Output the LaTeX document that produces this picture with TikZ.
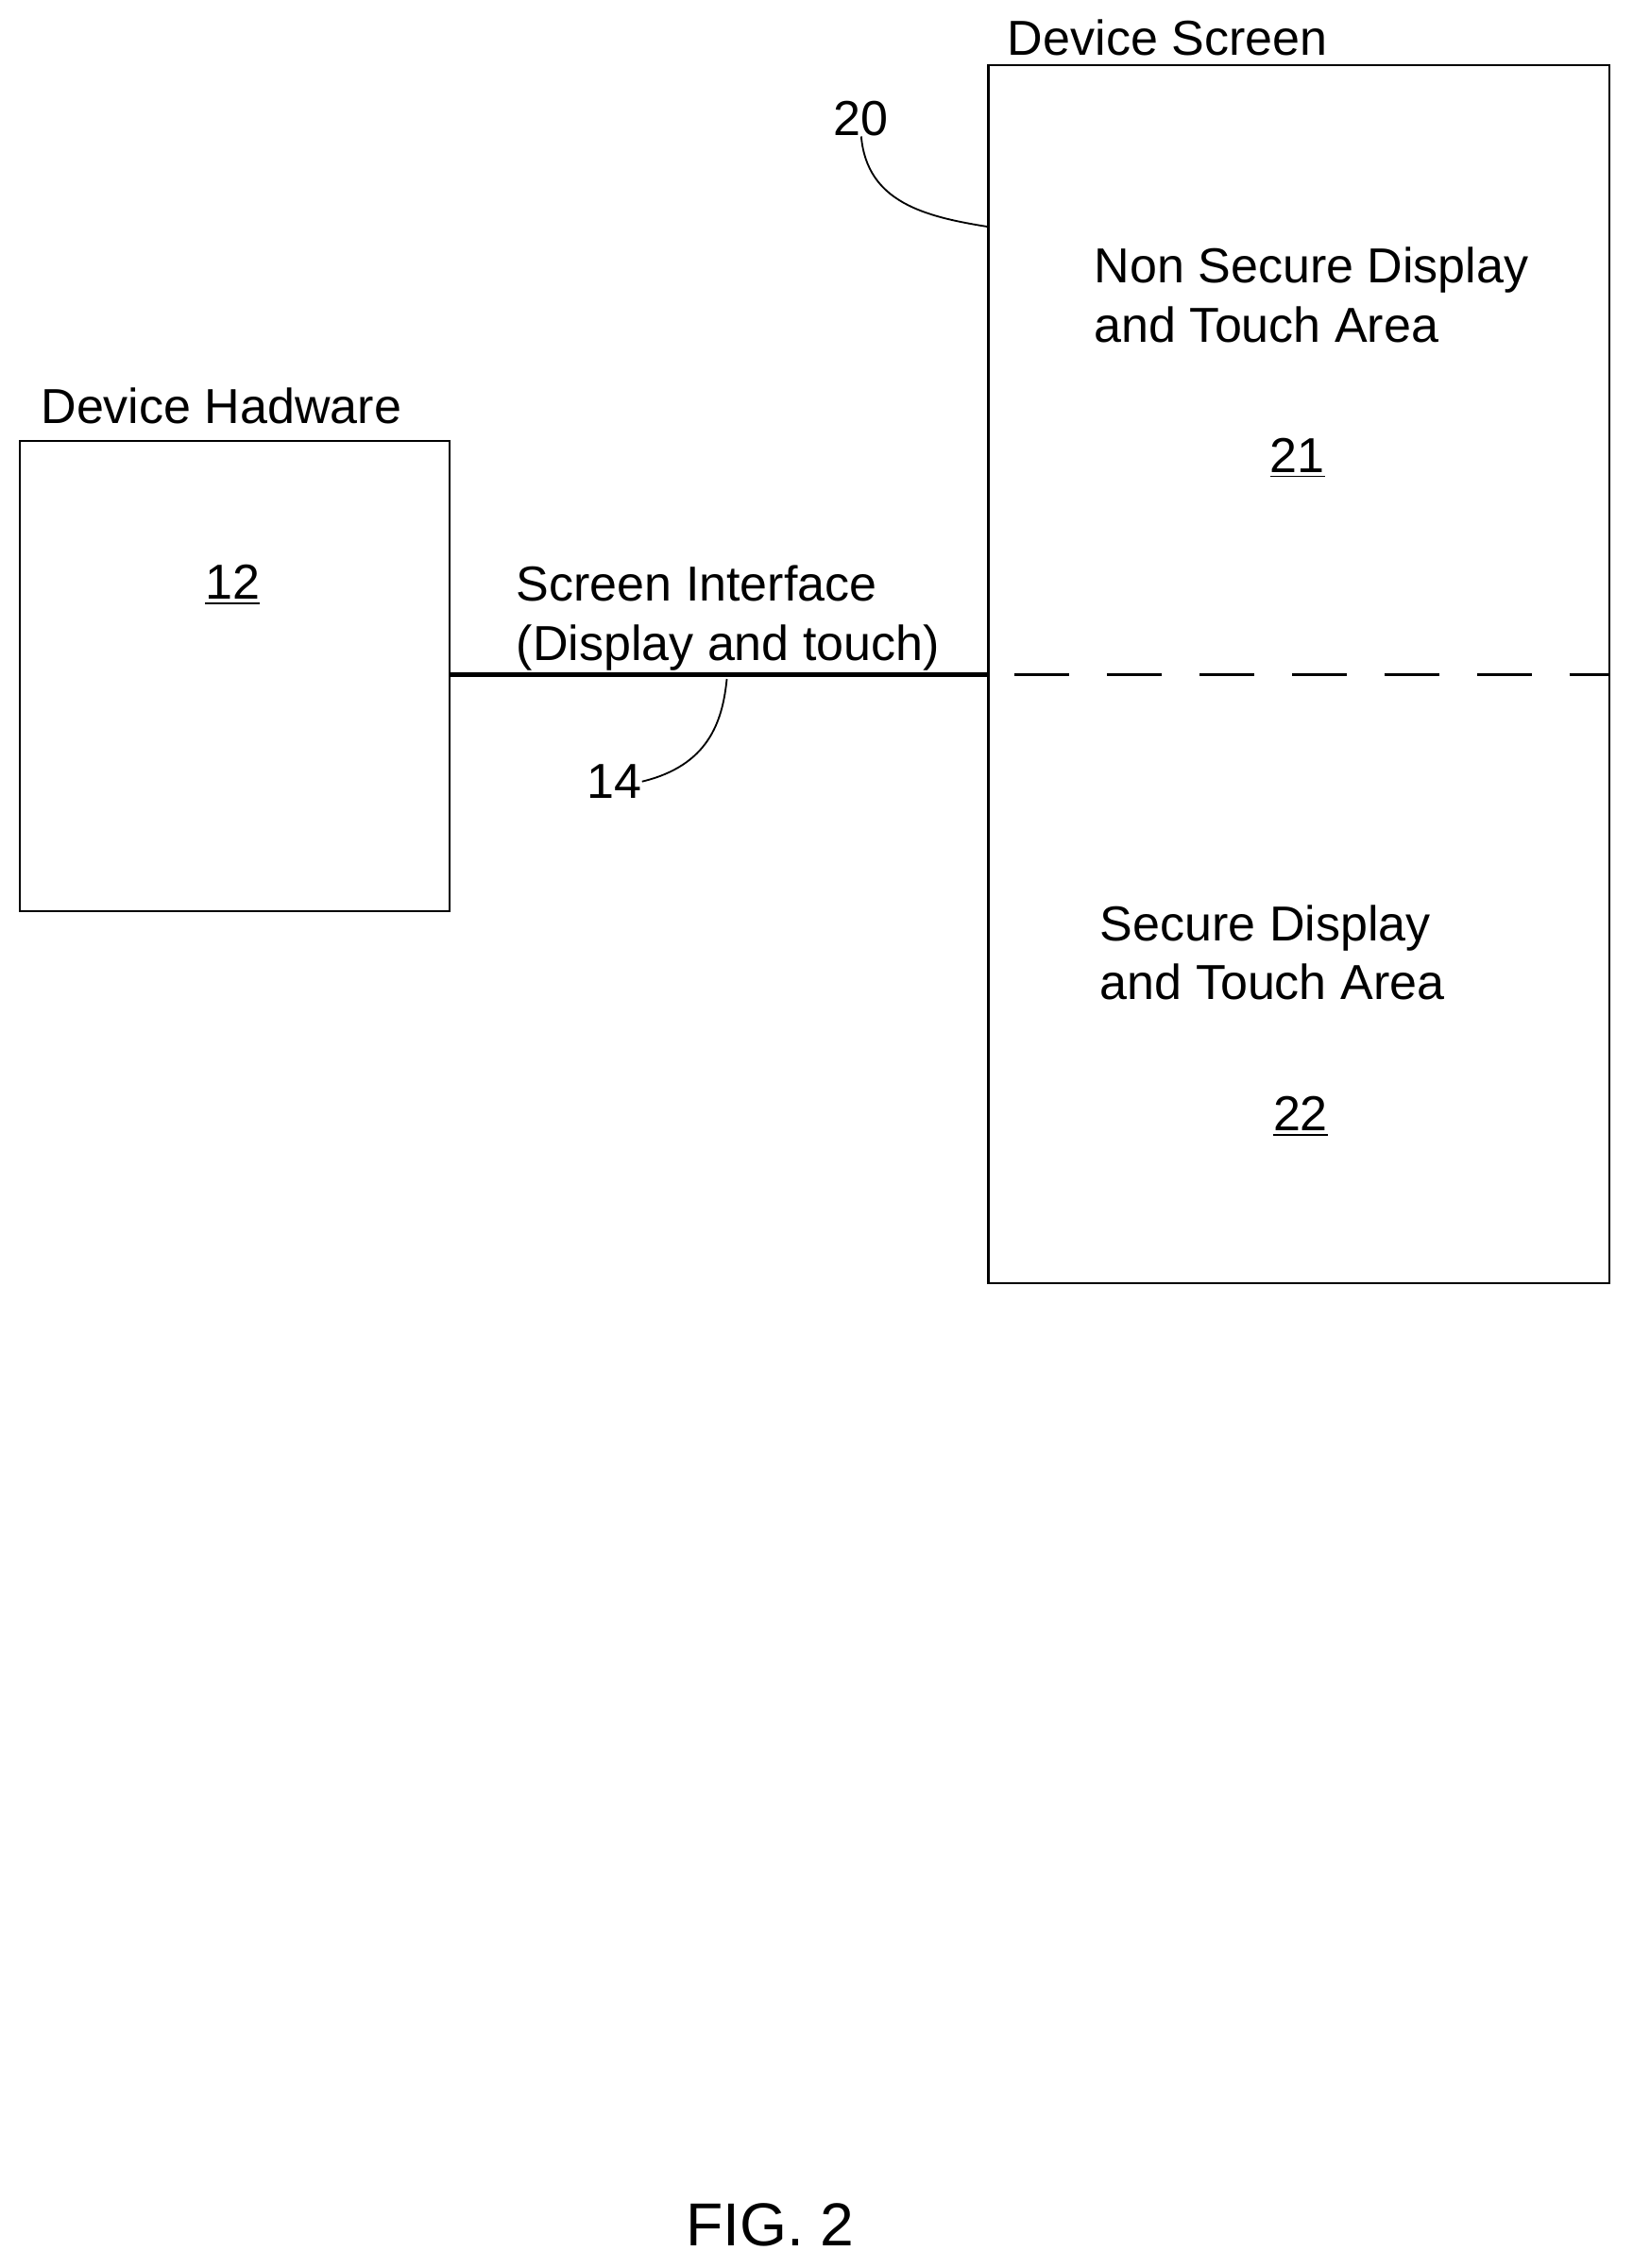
\documentclass[tikz,border=0pt]{standalone}
\usepackage{fontspec}
\setmainfont{Liberation Sans}
\begin{document}
\begin{tikzpicture}[x=0.5pt,y=-0.5pt,
  lbl/.style={font=\fontsize{17}{20.5}\selectfont, inner sep=0pt, align=left},
  num/.style={font=\fontsize{17}{20.5}\selectfont, inner sep=0pt},
  box/.style={draw, line width=0.7pt}]
\useasboundingbox (0,0) rectangle (1130,1570);
\draw[box] (14,305) rectangle (311,631);
\coordinate (hwr) at (311,467);
\draw[box] (684,45) rectangle (1114,888);
\coordinate (scl) at (684,467);
\coordinate (scr) at (1114,467);
\draw[line width=1.5pt] (hwr) -- (scl);
\draw[line width=0.7pt, dash pattern=on 19pt off 13pt, dash phase=-9pt] (scl) -- (scr);
\node[lbl, anchor=base west] (hwl) at (28,293) {Device Hadware};
\node[num] (n12) at (161,405) {\underline{12}};
\node[lbl, anchor=base west] (dsl) at (697,38) {Device Screen};
\node[num] (n20) at (596,82) {20};
\draw[line width=0.6pt] (n20.south) .. controls (600,140) and (640,150) .. (684,157);
\node[lbl, anchor=base west] (nsl) at (757,237) {Non Secure Display\\and Touch Area};
\node[num] (n21) at (898,317) {\underline{21}};
\node[lbl, anchor=base west] (sil) at (357,457) {Screen Interface\\(Display and touch)};
\node[num] (n14) at (425,541) {14};
\draw[line width=0.6pt] (n14.east) .. controls (490,530) and (500,500) .. (503,470);
\node[lbl, anchor=base west] (sdl) at (761,692) {Secure Display\\and Touch Area};
\node[num] (n22) at (900,773) {\underline{22}};
\node[font=\fontsize{21}{25}\selectfont, inner sep=0pt] (fig) at (533,1540) {FIG. 2};
\end{tikzpicture}
\end{document}
